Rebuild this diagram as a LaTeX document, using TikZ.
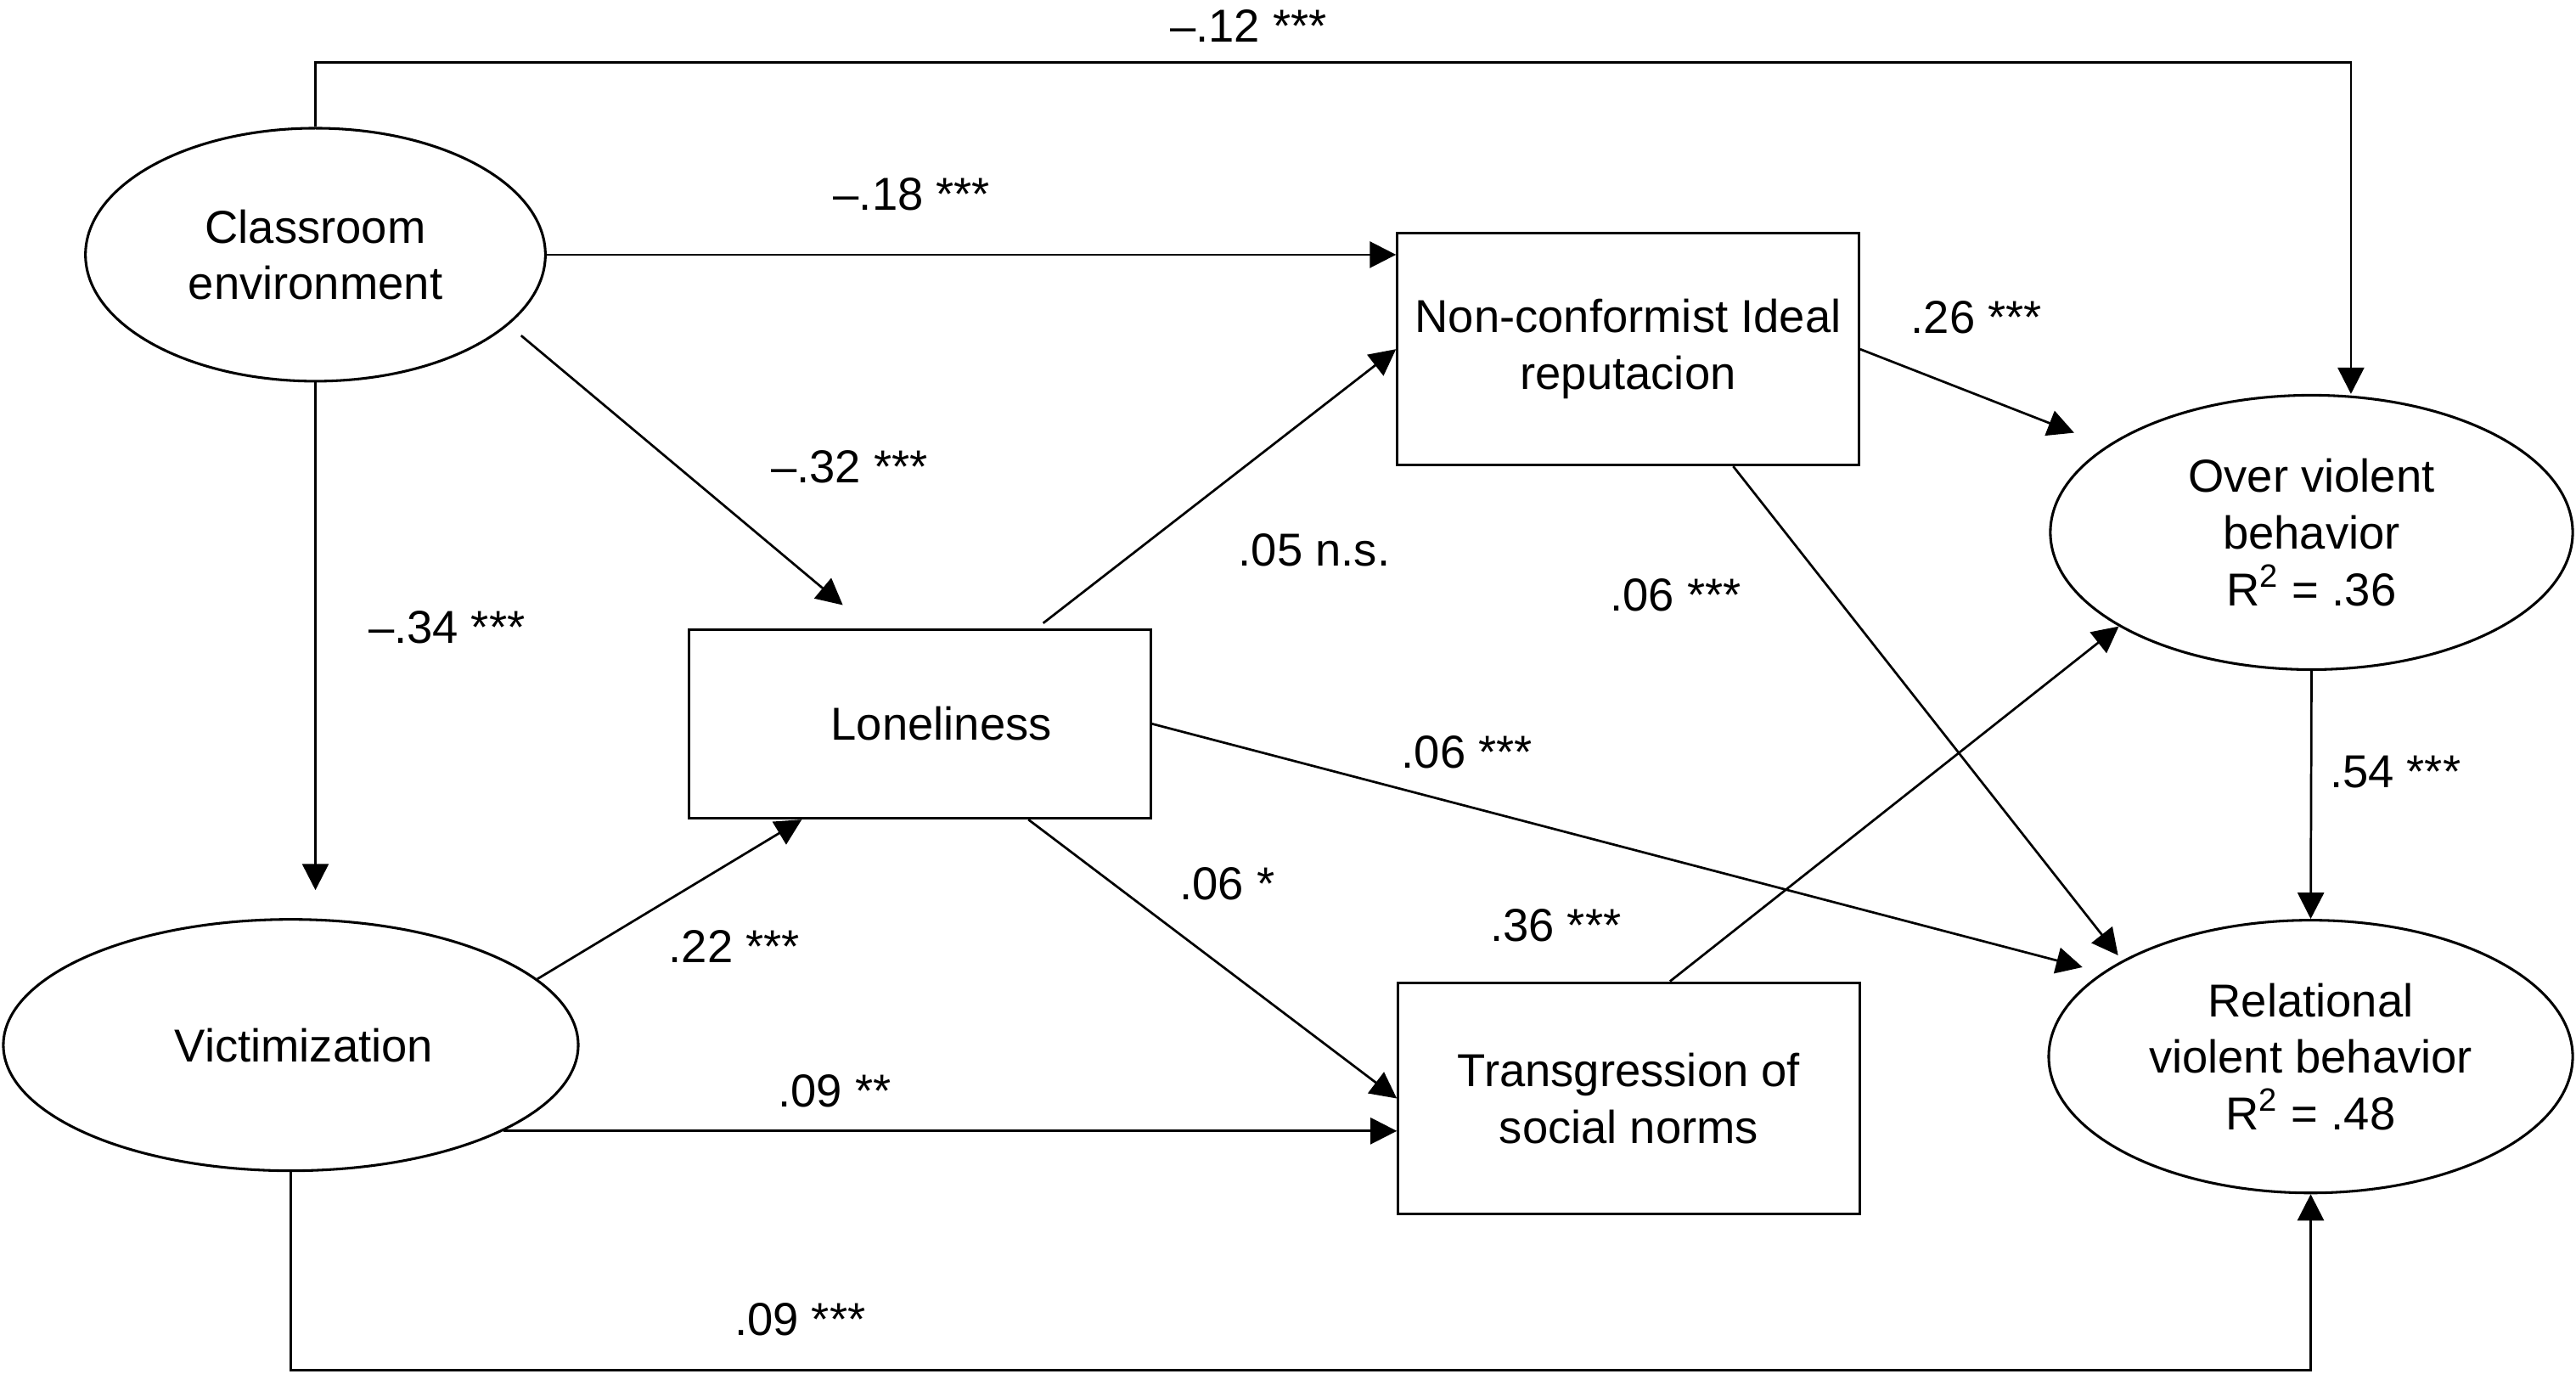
\documentclass[tikz,border=0pt]{standalone}
\usepackage{fontspec}
\setmainfont{Liberation Sans}
\usetikzlibrary{arrows.meta, shapes.geometric}

\tikzset{
  latent/.style={draw, ellipse, line width=0.9pt, inner sep=0pt, align=center},
  observed/.style={draw, rectangle, line width=0.9pt, inner sep=0pt, align=center, minimum width=5.62cm},
  effect/.style={line width=0.8pt, -{Triangle[length=0.32cm, width=0.32cm]}},
  coef/.style={inner sep=1pt}
}

\begin{document}
\begin{tikzpicture}[x=0.02cm, y=-0.02cm, font=\fontsize{16}{19.6}\selectfont]
  \useasboundingbox (0,0) rectangle (1568,836);

  % Latent variables
  \node[latent, minimum width=5.6cm, minimum height=3.08cm] (class) at (192,155) {Classroom\\environment};
  \node[latent, minimum width=7cm, minimum height=3.06cm] (vict) at (177,636) {\hspace*{0.32cm}Victimization};
  \node[latent, minimum width=6.36cm, minimum height=3.34cm] (over) at (1407,324) {Over violent\\behavior\\R\textsuperscript{2} = .36};
  \node[latent, minimum width=6.38cm, minimum height=3.32cm] (rel) at (1406.5,643) {Relational\\violent behavior\\R\textsuperscript{2} = .48};

  % Observed variables
  \node[observed, minimum height=2.3cm] (lone) at (560,440.5) {\hspace*{0.52cm}Loneliness};
  \node[observed, minimum height=2.82cm] (nci) at (991,212.5) {Non-conformist Ideal\\reputacion};
  \node[observed, minimum height=2.82cm] (trans) at (991.5,668.5) {Transgression of\\social norms};

  % Routing lines above and below
  \coordinate (topline) at (0,38);
  \coordinate (botline) at (0,834);
  \coordinate (ovin) at ([xshift=0.48cm]over.north);

  % Paths from classroom environment
  \draw[effect] (class.north) |- (ovin |- topline) -- (ovin);
  \draw[effect] (class.east) -- (class.east -| nci.west);
  \draw[effect, shorten <=0.2cm] (class.-20) -- ([xshift=-0.94cm, yshift=0.28cm]lone.north);
  \draw[effect, shorten >=0.34cm] (class.south) -- (class.south |- vict.north);

  % Paths from victimization
  \draw[effect] (vict.15) -- ([xshift=-1.44cm]lone.south);
  \draw[effect] (vict.-22) -- (vict.-22 -| trans.west);
  \draw[effect] (vict.south) |- (rel.south |- botline) -- (rel.south);

  % Paths from loneliness
  \draw[effect] ([xshift=1.5cm, yshift=0.06cm]lone.north) -- (nci.west);
  \draw[effect, shorten >=0.25cm] (lone.east) -- (rel.158);
  \draw[effect] ([xshift=1.32cm]lone.south) -- (trans.west);

  % Paths to the outcomes
  \draw[effect, shorten >=0.43cm] (nci.east) -- (over.157);
  \draw[effect, shorten >=0.08cm] ([xshift=1.28cm]nci.south) -- (rel.153);
  \draw[effect] ([xshift=0.5cm]trans.north) -- (over.206);
  \draw[effect] (over.south) -- (rel.north);

  % Coefficients
  \node[coef] (c-top) at (760,16) {--.12 ***};
  \node[coef] (c-cn) at (555,118) {--.18 ***};
  \node[coef] (c-cl) at (517,284) {--.32 ***};
  \node[coef] (c-cv) at (272,382) {--.34 ***};
  \node[coef] (c-no) at (1203,193) {.26 ***};
  \node[coef] (c-ln) at (800,335) {.05 n.s.};
  \node[coef] (c-nr) at (1020,362) {.06 ***};
  \node[coef] (c-lr) at (893,458) {.06 ***};
  \node[coef] (c-or) at (1458,470) {.54 ***};
  \node[coef] (c-lt) at (747,538) {.06 *};
  \node[coef] (c-to) at (947,563) {.36 ***};
  \node[coef] (c-vl) at (447,576) {.22 ***};
  \node[coef] (c-vt) at (508,664) {.09 **};
  \node[coef] (c-vr) at (487,803) {.09 ***};
\end{tikzpicture}
\end{document}
